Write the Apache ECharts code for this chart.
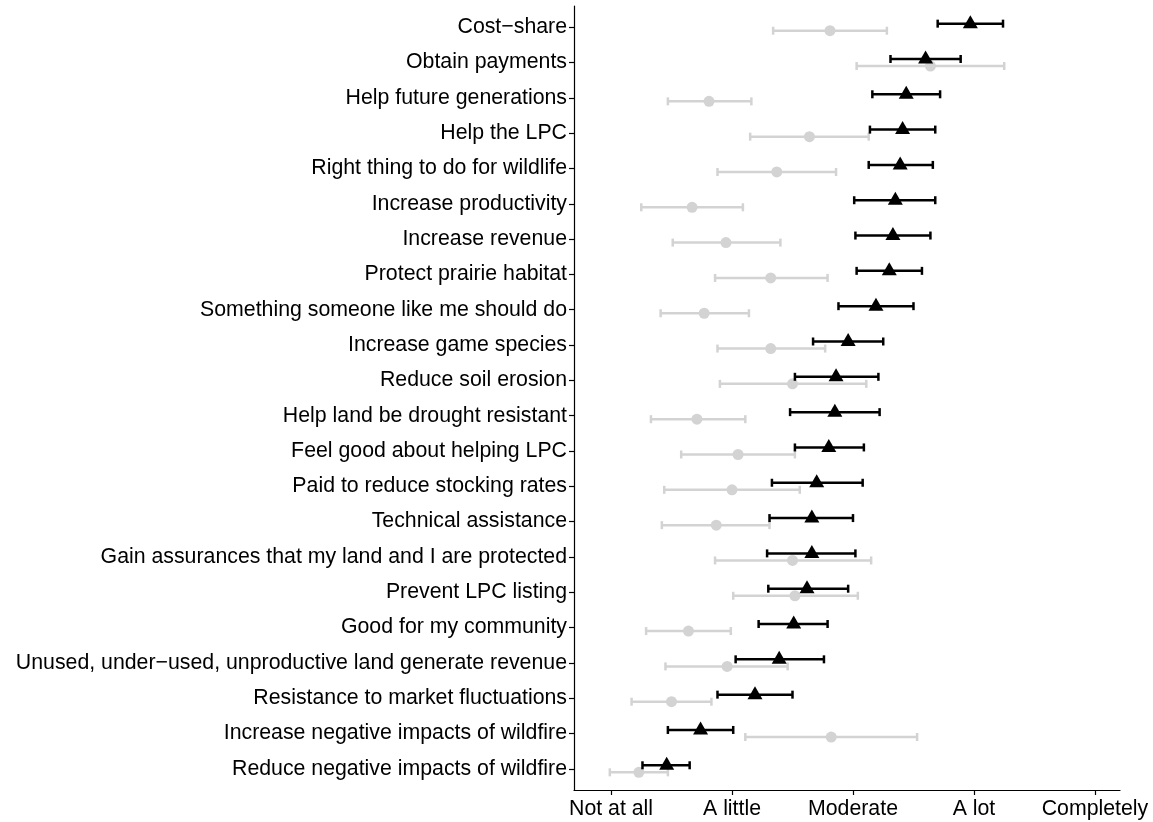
<!DOCTYPE html>
<html>
<head>
<meta charset="utf-8">
<script src="https://cdn.jsdelivr.net/npm/echarts@6/dist/echarts.min.js"></script>
<style>
  html, body { margin: 0; padding: 0; background: #fff; }
  #chart { width: 1153px; height: 822px; }
</style>
</head>
<body>
<div id="chart"></div>
<script>
// motivations, top to bottom
const categories = [
  "Cost\u2212share",
  "Obtain payments",
  "Help future generations",
  "Help the LPC",
  "Right thing to do for wildlife",
  "Increase productivity",
  "Increase revenue",
  "Protect prairie habitat",
  "Something someone like me should do",
  "Increase game species",
  "Reduce soil erosion",
  "Help land be drought resistant",
  "Feel good about helping LPC",
  "Paid to reduce stocking rates",
  "Technical assistance",
  "Gain assurances that my land and I are protected",
  "Prevent LPC listing",
  "Good for my community",
  "Unused, under\u2212used, unproductive land generate revenue",
  "Resistance to market fluctuations",
  "Increase negative impacts of wildfire",
  "Reduce negative impacts of wildfire"
];

// black triangles
const blackMean = [3.97, 3.60, 3.44, 3.41, 3.39, 3.35, 3.33, 3.30, 3.19, 2.96, 2.86, 2.85,
                   2.80, 2.70, 2.66, 2.66, 2.62, 2.51, 2.39, 2.19, 1.74, 1.46];
const blackLow  = [3.70, 3.31, 3.16, 3.14, 3.13, 3.01, 3.02, 3.03, 2.88, 2.67, 2.52, 2.48,
                   2.52, 2.33, 2.31, 2.29, 2.30, 2.22, 2.03, 1.88, 1.47, 1.26];
const blackHigh = [4.24, 3.89, 3.72, 3.68, 3.66, 3.68, 3.64, 3.57, 3.50, 3.25, 3.21, 3.22,
                   3.09, 3.08, 3.00, 3.02, 2.96, 2.79, 2.76, 2.50, 2.01, 1.65];

// grey circles
const greyMean = [2.81, 3.64, 1.81, 2.64, 2.37, 1.67, 1.95, 2.32, 1.77, 2.32, 2.50, 1.71,
                  2.05, 2.00, 1.87, 2.50, 2.52, 1.64, 1.96, 1.50, 2.82, 1.23];
const greyLow  = [2.34, 3.03, 1.47, 2.15, 1.88, 1.25, 1.51, 1.86, 1.41, 1.88, 1.90, 1.33,
                  1.58, 1.44, 1.42, 1.86, 2.01, 1.29, 1.45, 1.17, 2.11, 0.99];
const greyHigh = [3.28, 4.25, 2.16, 3.13, 2.86, 2.09, 2.40, 2.79, 2.14, 2.77, 3.11, 2.11,
                  2.52, 2.56, 2.31, 3.15, 3.04, 1.99, 2.46, 1.83, 3.53, 1.47];

const xTicks = [1, 2, 3, 4, 5];
const xTickLabels = ["Not at all", "A little", "Moderate", "A lot", "Completely"];

const FONT = "'Liberation Sans', Arial, Helvetica, sans-serif";
const dodge = 0.1;

function errorBar(color) {
  return function (params, api) {
    const y = api.value(0);
    const p1 = api.coord([api.value(1), y]);
    const p2 = api.coord([api.value(2), y]);
    const h = 4;
    const style = { stroke: color, lineWidth: 2.5, fill: null };
    return {
      type: 'group',
      children: [
        { type: 'line', shape: { x1: p1[0], y1: p1[1], x2: p2[0], y2: p2[1] }, style: style },
        { type: 'line', shape: { x1: p1[0], y1: p1[1] - h, x2: p1[0], y2: p1[1] + h }, style: style },
        { type: 'line', shape: { x1: p2[0], y1: p2[1] - h, x2: p2[0], y2: p2[1] + h }, style: style }
      ]
    };
  };
}

const idx = categories.map((c, i) => i);
const greyBars = idx.map(i => [i + dodge, greyLow[i], greyHigh[i]]);
const blackBars = idx.map(i => [i - dodge, blackLow[i], blackHigh[i]]);
const greyPts = idx.map(i => [greyMean[i], i + dodge]);
const blackPts = idx.map(i => [blackMean[i], i - dodge]);

const chart = echarts.init(document.getElementById('chart'));
const option = {
  animation: false,
  backgroundColor: '#fff',
  textStyle: { fontFamily: FONT },
  grid: { left: 574, right: 33, top: 6, bottom: 32, containLabel: false },
  xAxis: {
    type: 'value',
    min: 0.694,
    max: 5.207,
    splitLine: { show: false },
    axisLine: { show: true, onZero: false, lineStyle: { color: '#000', width: 1.2 } },
    axisTick: { show: true, length: 5, customValues: xTicks, lineStyle: { color: '#000', width: 1.2 } },
    axisLabel: {
      customValues: xTicks,
      margin: 9,
      color: '#000',
      fontSize: 21.3,
      fontFamily: FONT,
      formatter: v => xTickLabels[xTicks.indexOf(Math.round(v))]
    }
  },
  yAxis: {
    type: 'value',
    inverse: true,
    min: -0.6,
    max: categories.length - 1 + 0.6,
    splitLine: { show: false },
    axisLine: { show: true, onZero: false, lineStyle: { color: '#000', width: 1.2 } },
    axisTick: { show: true, length: 5, customValues: idx, lineStyle: { color: '#000', width: 1.2 } },
    axisLabel: {
      customValues: idx,
      margin: 7,
      color: '#000',
      fontSize: 21.3,
      fontFamily: FONT,
      formatter: v => categories[Math.round(v)]
    }
  },
  series: [
    {
      type: 'custom',
      renderItem: errorBar('#d3d3d3'),
      data: greyBars,
      encode: { y: 0, x: [1, 2] },
      z: 1
    },
    {
      type: 'scatter',
      data: greyPts,
      symbol: 'circle',
      symbolSize: 11,
      itemStyle: { color: '#d3d3d3', opacity: 1 },
      z: 2
    },
    {
      type: 'custom',
      renderItem: errorBar('#000'),
      data: blackBars,
      encode: { y: 0, x: [1, 2] },
      z: 3
    },
    {
      type: 'scatter',
      data: blackPts,
      symbol: 'triangle',
      symbolSize: [15, 13],
      symbolOffset: [0, -2],
      itemStyle: { color: '#000', opacity: 1 },
      z: 4
    }
  ]
};
chart.setOption(option);
</script>
</body>
</html>
